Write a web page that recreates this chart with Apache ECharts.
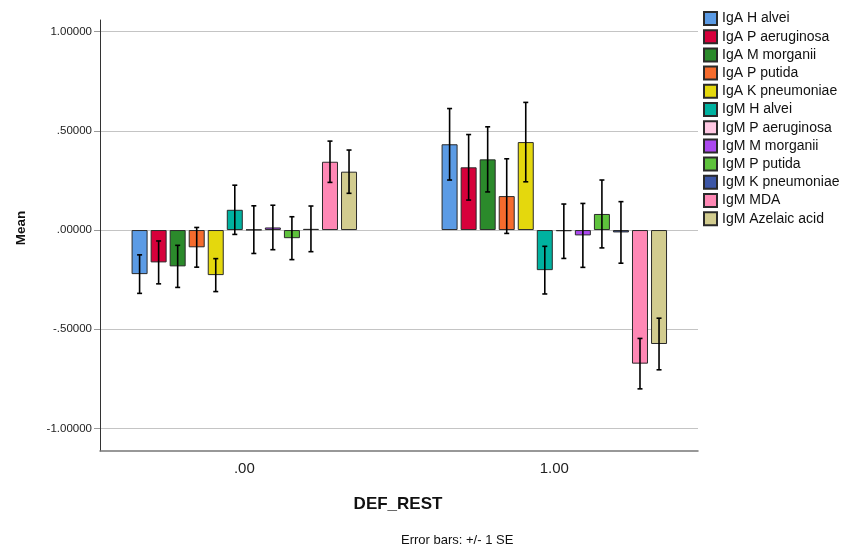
<!DOCTYPE html>
<html>
<head>
<meta charset="utf-8">
<script src="https://cdn.jsdelivr.net/npm/echarts@6/dist/echarts.min.js"></script>
<style>html,body{margin:0;padding:0;background:#fff}#c{width:853px;height:547px}</style>
</head>
<body>
<div id="c"></div>
<script>
const categories = ['.00', '1.00'];
const seriesNames = ['IgA H alvei','IgA P aeruginosa','IgA M morganii','IgA P putida','IgA K pneumoniae',
  'IgM H alvei','IgM P aeruginosa','IgM M morganii','IgM P putida','IgM K pneumoniae','IgM MDA','IgM Azelaic acid'];
const meanDef0 = [-0.222, -0.163, -0.183, -0.087, -0.227, 0.102, 0.002, 0.013, -0.041, 0.006, 0.344, 0.294];
const seDef0   = [0.097, 0.108, 0.106, 0.100, 0.083, 0.124, 0.120, 0.112, 0.108, 0.115, 0.104, 0.109];
const meanDef1 = [0.432, 0.316, 0.356, 0.171, 0.443, -0.202, -0.006, -0.027, 0.081, -0.012, -0.673, -0.574];
const seDef1   = [0.180, 0.165, 0.164, 0.188, 0.200, 0.120, 0.137, 0.161, 0.171, 0.155, 0.127, 0.130];
const yTicks = [-1, -0.5, 0, 0.5, 1];
const colors = ['#5b9be5','#d6003b','#2b8a2b','#f56b2d','#e4d80d','#00b2a0','#ffc8e3','#ab48ef','#5ec23c','#3c56a6','#ff88b5','#d2cc8f'];

const means = [meanDef0, meanDef1];
const ses = [seDef0, seDef1];
const BAR_W = 16, GAP = 0.19;
const pitch = BAR_W * (1 + GAP);

function fmtY(v) {
  let s = Math.abs(v).toFixed(5);
  if (s.startsWith('0')) s = s.slice(1);
  return (v < 0 ? '-' : '') + s;
}

const series = seriesNames.map((name, i) => ({
  name, type: 'bar', barWidth: BAR_W, barGap: (GAP * 100) + '%',
  itemStyle: { color: colors[i], borderColor: '#2a2a2a', borderWidth: 1 },
  emphasis: { disabled: true },
  data: categories.map((c, g) => [g, means[g][i]])
}));

const errData = [];
categories.forEach((c, g) => seriesNames.forEach((n, i) => {
  errData.push([g, i, means[g][i] - ses[g][i], means[g][i] + ses[g][i]]);
}));

series.push({
  type: 'custom', name: 'err', z: 10, silent: true,
  data: errData,
  renderItem: (params, api) => {
    const g = api.value(0), i = api.value(1);
    const lo = api.coord([g, api.value(2)]);
    const hi = api.coord([g, api.value(3)]);
    const x = lo[0] + (i - 5.5) * pitch;
    const cw = 2.5;
    const st = { stroke: '#000', lineWidth: 1.6 };
    return { type: 'group', children: [
      { type: 'line', shape: { x1: x, y1: lo[1], x2: x, y2: hi[1] }, style: st },
      { type: 'line', shape: { x1: x - cw, y1: lo[1], x2: x + cw, y2: lo[1] }, style: st },
      { type: 'line', shape: { x1: x - cw, y1: hi[1], x2: x + cw, y2: hi[1] }, style: st }
    ]};
  }
});

const chart = echarts.init(document.getElementById('c'));
chart.setOption({
  animation: false,
  color: colors,
  grid: { left: 100, right: 155, top: 20, bottom: 96 },
  legend: {
    orient: 'vertical', left: 698, top: 6, itemWidth: 13, itemHeight: 13, itemGap: 3.2,
    data: seriesNames, icon: 'rect',
    textStyle: { fontFamily: 'Liberation Sans, Arial', fontSize: 14, color: '#111' }
  },
  xAxis: {
    type: 'value', min: -0.4655, max: 1.4635,
    axisLine: { show: true, onZero: false, lineStyle: { color: '#777', width: 1.5 } },
    axisTick: { show: false },
    splitLine: { show: false },
    axisLabel: { customValues: [0, 1], formatter: v => categories[Math.round(v)], margin: 10,
      fontFamily: 'Liberation Sans, Arial', fontSize: 15, color: '#222' }
  },
  yAxis: {
    type: 'value', min: -1.113, max: 1.058,
    axisLine: { show: true, onZero: false, lineStyle: { color: '#333', width: 1 } },
    axisTick: { show: true, customValues: yTicks, length: 6, lineStyle: { color: '#999' } },
    axisLabel: { customValues: yTicks, formatter: fmtY, margin: 8,
      fontFamily: 'Liberation Sans, Arial', fontSize: 11.5, color: '#222' },
    splitLine: { show: true, lineStyle: { color: '#c4c4c4', width: 1 } }
  },
  graphic: [
    { type: 'text', x: 21, y: 228, rotation: Math.PI / 2,
      style: { text: 'Mean', font: 'bold 13.5px Liberation Sans, Arial', fill: '#111', align: 'center', verticalAlign: 'middle' } },
    { type: 'text', x: 398, y: 504,
      style: { text: 'DEF_REST', font: 'bold 17px Liberation Sans, Arial', fill: '#111', align: 'center', verticalAlign: 'middle' } },
    { type: 'text', x: 401, y: 540,
      style: { text: 'Error bars: +/- 1 SE', font: '13px Liberation Sans, Arial', fill: '#111', align: 'left', verticalAlign: 'middle' } }
  ],
  series
});
</script>
</body>
</html>
